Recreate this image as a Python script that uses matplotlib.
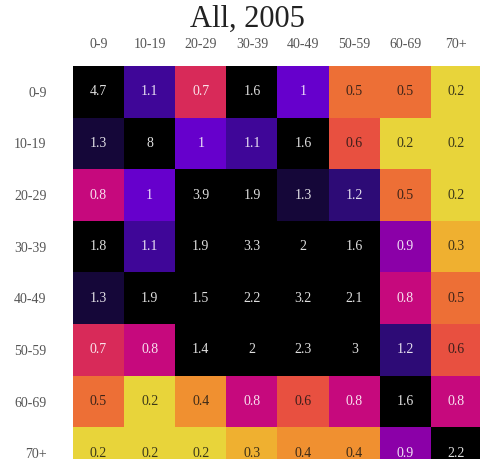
import matplotlib
matplotlib.use("Agg")
import matplotlib.pyplot as plt
from matplotlib.colors import LinearSegmentedColormap, Normalize
import numpy as np

# age groups and contact values
groups = ["0-9", "10-19", "20-29", "30-39", "40-49", "50-59", "60-69", "70+"]
row_0_9 = [4.7, 1.1, 0.7, 1.6, 1, 0.5, 0.5, 0.2]
row_10_19 = [1.3, 8, 1, 1.1, 1.6, 0.6, 0.2, 0.2]
row_20_29 = [0.8, 1, 3.9, 1.9, 1.3, 1.2, 0.5, 0.2]
row_30_39 = [1.8, 1.1, 1.9, 3.3, 2, 1.6, 0.9, 0.3]
row_40_49 = [1.3, 1.9, 1.5, 2.2, 3.2, 2.1, 0.8, 0.5]
row_50_59 = [0.7, 0.8, 1.4, 2, 2.3, 3, 1.2, 0.6]
row_60_69 = [0.5, 0.2, 0.4, 0.8, 0.6, 0.8, 1.6, 0.8]
row_70 = [0.2, 0.2, 0.2, 0.3, 0.4, 0.4, 0.9, 2.2]

values = np.array([row_0_9, row_10_19, row_20_29, row_30_39,
                   row_40_49, row_50_59, row_60_69, row_70])

# colour ramp from 0.2 (yellow) to 1.4 (black), steps of 0.1
ramp = ["#e8d43a", "#f0b030", "#f09030", "#ee7036", "#e85040", "#d82a5a",
        "#c80a7c", "#8c00a8", "#6600cc", "#40069a", "#2e0c78", "#16083a",
        "#000000"]
cmap = LinearSegmentedColormap.from_list("contacts", ramp)
cmap.set_over("black")
cmap.set_under(ramp[0])
norm = Normalize(vmin=0.2, vmax=1.4)

serif = "Liberation Serif"

fig = plt.figure(figsize=(4.8, 4.59), dpi=100)
ax = fig.add_axes([73 / 480, -20 / 459, 409 / 480, 413 / 459])

ax.imshow(values, cmap=cmap, norm=norm, aspect="auto", interpolation="nearest")

for i in range(len(groups)):
    for j in range(len(groups)):
        v = values[i, j]
        txt = f"{v:g}"
        if v >= 0.7:
            col, a = "white", 0.88
        else:
            col, a = "#111111", 0.8
        ax.text(j, i, txt, ha="center", va="center", color=col, alpha=a,
                fontsize=10, family=serif)

ax.set_xticks(range(len(groups)))
ax.set_xticklabels(groups)
ax.set_yticks(range(len(groups)))
ax.set_yticklabels(groups)
ax.xaxis.tick_top()
ax.tick_params(length=0, labelsize=10, labelcolor="#555555")
ax.tick_params(axis="x", pad=11)
ax.tick_params(axis="y", pad=19)
for lab in ax.get_xticklabels() + ax.get_yticklabels():
    lab.set_family(serif)
for s in ax.spines.values():
    s.set_visible(False)

fig.text(247 / 480, 1 - 19 / 459, "All, 2005", ha="center", va="center",
         fontsize=22, family=serif, color="#222222")

fig.savefig("out.png", dpi=100)
